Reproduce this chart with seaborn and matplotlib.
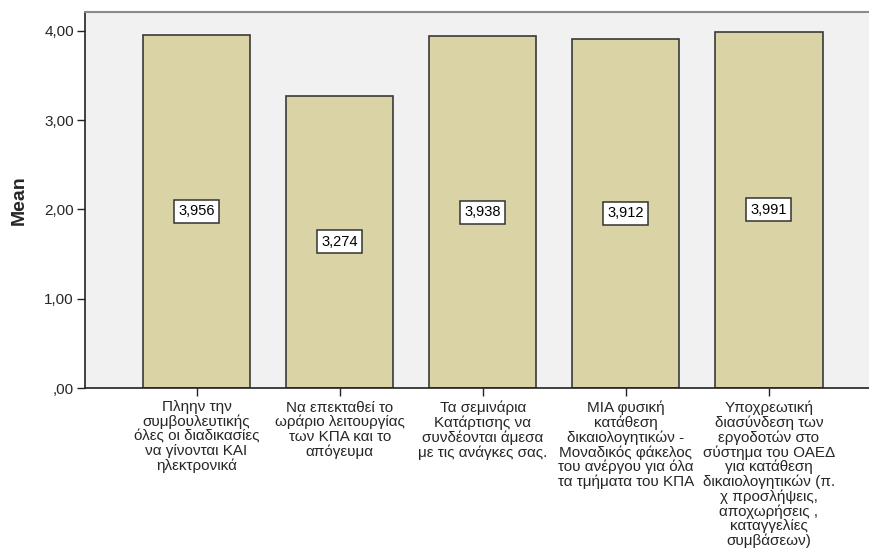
import matplotlib
matplotlib.use("Agg")
import matplotlib.pyplot as plt
import seaborn as sns
import pandas as pd

categories = [
    "Πληην την\nσυμβουλευτικής\nόλες οι διαδικασίες\nνα γίνονται ΚΑΙ\nηλεκτρονικά",
    "Να επεκταθεί το\nωράριο λειτουργίας\nτων ΚΠΑ και το\nαπόγευμα",
    "Τα σεμινάρια\nΚατάρτισης να\nσυνδέονται άμεσα\nμε τις ανάγκες σας.",
    "ΜΙΑ φυσική\nκατάθεση\nδικαιολογητικών -\nΜοναδικός φάκελος\nτου ανέργου για όλα\nτα τμήματα του ΚΠΑ",
    "Υποχρεωτική\nδιασύνδεση των\nεργοδοτών στο\nσύστημα του ΟΑΕΔ\nγια κατάθεση\nδικαιολογητικών (π.\nχ προσλήψεις,\nαποχωρήσεις ,\nκαταγγελίες\nσυμβάσεων)",
]
means = [3.956, 3.274, 3.938, 3.912, 3.991]
yticks = [0, 1, 2, 3, 4]
ytick_labels = [",00", "1,00", "2,00", "3,00", "4,00"]

sns.set_theme(style="white")
plt.rcParams["font.family"] = ["Liberation Sans", "DejaVu Sans"]

df = pd.DataFrame({"item": categories, "mean": means})

fig = plt.figure(figsize=(8.69, 5.54), dpi=100)
ax = fig.add_axes([85 / 869, 1 - 388 / 554, 1 - 85 / 869, (388 - 12) / 554])
ax.set_facecolor("#F1F1F1")

sns.barplot(data=df, x="item", y="mean", ax=ax, color="#D9D3A5",
            edgecolor="#3a3a3a", linewidth=1.2, width=0.75, saturation=1)

# value boxes sit at half the bar height
for i, v in enumerate(means):
    ax.text(i, v / 2, f"{v:.3f}".replace(".", ","), ha="center", va="center",
            fontsize=10.5, color="black",
            bbox=dict(boxstyle="square,pad=0.3", fc="white", ec="#333333", lw=1.1))

ax.set_xlim(-0.78, 4.70)
ax.set_ylim(0, 4.21)
ax.set_yticks(yticks)
ax.set_yticklabels(ytick_labels, fontsize=11)
ax.set_xticks(range(len(categories)))
ax.set_xticklabels(categories, fontsize=11, linespacing=1.03, ha="center", va="top")
ax.tick_params(axis="both", direction="out", length=6, width=1, color="#222222",
               bottom=True, left=True, pad=2)
ax.tick_params(axis="x", pad=3)

ax.set_xlabel("")
ax.set_ylabel("Mean", fontsize=14, fontweight="bold", labelpad=12)

for side in ["left", "bottom"]:
    ax.spines[side].set_color("#222222")
    ax.spines[side].set_linewidth(1.2)
ax.spines["top"].set_color("#8a8a8a")
ax.spines["top"].set_linewidth(1.5)
ax.spines["right"].set_visible(False)

fig.savefig("out.png", dpi=100)
